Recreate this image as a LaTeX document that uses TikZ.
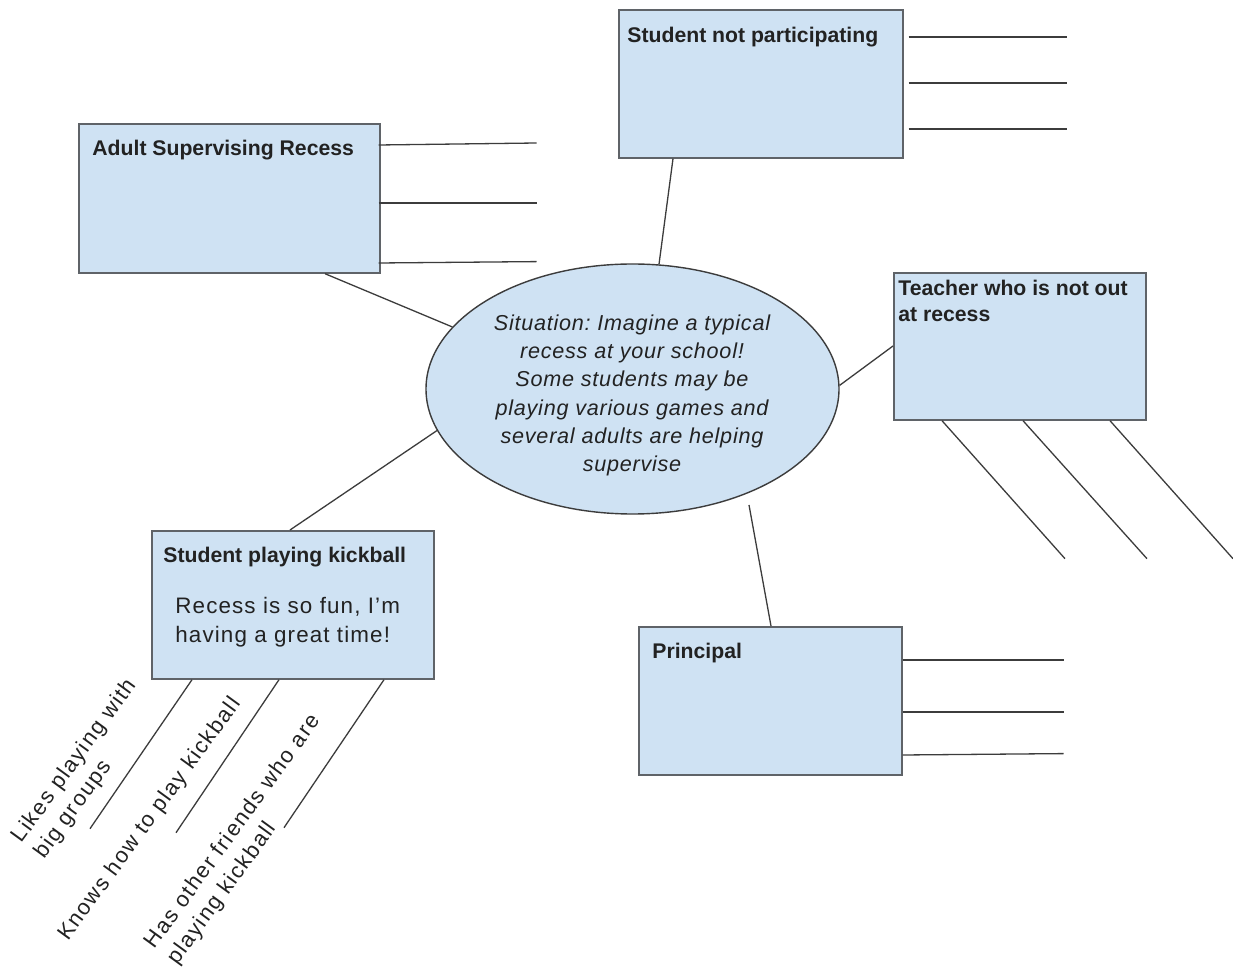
\documentclass[tikz,border=0pt]{standalone}
\usepackage{fontspec}
\setmainfont{Liberation Sans}
\newfontfamily\bodyfont[LetterSpace=5]{Liberation Sans}
\newfontfamily\ellfont[LetterSpace=3.5]{Liberation Sans}
\newfontfamily\rotfont[LetterSpace=7]{Liberation Sans}
\usetikzlibrary{shapes.geometric}
\definecolor{boxfill}{HTML}{CFE2F3}
\definecolor{boxline}{HTML}{5F6368}
\definecolor{wirecol}{HTML}{3C3C3C}
\definecolor{inkcol}{HTML}{222222}
\tikzset{
  box/.style={draw=boxline, line width=0.85pt, fill=boxfill, rectangle, inner sep=0pt, anchor=north west},
  wire/.style={draw=wirecol, line width=0.65pt},
  oval/.style={draw=wirecol, line width=0.7pt, fill=boxfill, ellipse, inner sep=0pt, minimum width=206.5pt, minimum height=125pt},
  title/.style={font=\frenchspacing\fontsize{10.6pt}{13pt}\selectfont\bfseries, text=inkcol, inner sep=0pt, anchor=base west, align=left},
  bodytext/.style={font=\frenchspacing\bodyfont\fontsize{11.2pt}{14.75pt}\selectfont, text=inkcol, inner sep=0pt, anchor=base west, align=left},
  situ/.style={font=\frenchspacing\ellfont\itshape\fontsize{10.8pt}{14.1pt}\selectfont, text=inkcol, inner sep=0pt, align=center},
  rottext/.style={font=\frenchspacing\rotfont\fontsize{11pt}{13.75pt}\selectfont, text=inkcol, inner sep=0pt, anchor=base west, align=left, rotate=54}
}
\begin{document}
\begin{tikzpicture}[x=0.5pt, y=-0.5pt]
\useasboundingbox[fill=white] (0,0) rectangle (1233,972);

% boxes
\node[box, minimum width=142pt, minimum height=74pt] (snp) at (618,9) {};
\node[box, minimum width=150.5pt, minimum height=74.5pt] (adult) at (78,123) {};
\node[box, minimum width=126pt, minimum height=73.5pt] (teacher) at (893,272) {};
\node[box, minimum width=131.5pt, minimum height=74pt] (principal) at (638,626) {};
\node[box, minimum width=141pt, minimum height=74pt] (kick) at (151,530) {};

% central ellipse
\node[oval] (ell) at (632.5,389) {};
\node[situ] (sit) at (632,395.5) {Situation: Imagine a typical\\recess at your school!\\Some students may be\\playing various games and\\several adults are helping\\supervise};

% titles
\node[title] (tsnp) at (627,43) {Student not participating};
\node[title] (tadult) at (92,156) {Adult Supervising Recess};
\node[title] (tteacher) at (898,322) {Teacher who is not out\\at recess};
\node[title] (tprincipal) at (652,659) {Principal};
\node[title] (tkick) at (163,563) {Student playing kickball};
\node[bodytext] (bkick) at (175,643) {Recess is so fun, I’m\\having a great time!};

% connectors to the ellipse
\draw[wire] ([xshift=27.5pt]snp.south west) -- (ell.78);
\draw[wire] ([xshift=123.5pt]adult.south west) -- (ell.161);
\draw[wire] (ell.1) -- ([yshift=-37pt]teacher.north west);
\draw[wire] ([xshift=69.5pt]kick.north west) -- (ell.192);
\coordinate (pc) at (749,505);
\draw[wire] (pc) -- ([xshift=66.5pt]principal.north west);

% answer lines: student not participating
\draw[wire] ([xshift=2.5pt,yshift=-14pt]snp.north east) -- ++(79pt,0pt);
\draw[wire] ([xshift=2.5pt,yshift=-37pt]snp.north east) -- ++(79pt,0pt);
\draw[wire] ([xshift=2.5pt,yshift=-60pt]snp.north east) -- ++(79pt,0pt);

% answer lines: adult
\draw[wire] ([xshift=-1pt,yshift=-11pt]adult.north east) -- ++(79pt,1pt);
\draw[wire] ([xshift=-1pt,yshift=-40pt]adult.north east) -- ++(79pt,0pt);
\draw[wire] ([xshift=-1pt,yshift=-70pt]adult.north east) -- ++(79pt,0.7pt);

% answer lines: principal
\draw[wire] ([yshift=-17pt]principal.north east) -- ++(80.5pt,0pt);
\draw[wire] ([yshift=-43pt]principal.north east) -- ++(80.5pt,0pt);
\draw[wire] ([yshift=-64.5pt]principal.north east) -- ++(80.5pt,0.7pt);

% answer lines: teacher
\draw[wire] ([xshift=24.5pt]teacher.south west) -- ++(61.5pt,-69pt);
\draw[wire] ([xshift=65pt]teacher.south west) -- ++(62pt,-69pt);
\draw[wire] ([xshift=108.5pt]teacher.south west) -- ++(61.5pt,-69pt);

% answer lines: kickball
\draw[wire] ([xshift=20.5pt]kick.south west) -- ++(-51pt,-74.5pt);
\draw[wire] ([xshift=64pt]kick.south west) -- ++(-51.5pt,-76.5pt);
\draw[wire] ([xshift=116.5pt]kick.south west) -- ++(-50pt,-74pt);

% rotated answers
\node[rottext] (r1) at (44,860) {Likes playing with\\big groups};
\node[rottext] (r2) at (68,942) {Knows how to play kickball};
\node[rottext] (r3) at (177,966) {Has other friends who are\\playing kickball};
\end{tikzpicture}
\end{document}
